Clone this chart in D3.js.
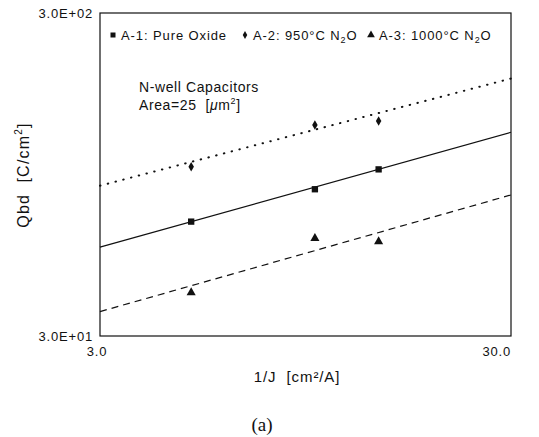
<!DOCTYPE html>
<html>
<head>
<meta charset="utf-8">
<script src="https://cdn.jsdelivr.net/npm/d3@7"></script>
<style>
  body { margin: 0; background: #fff; }
  text { font-family: "Liberation Sans", Arial, sans-serif; fill: #111; }
</style>
</head>
<body>
<div id="chart"></div>
<script>
// data
var xValues = [5, 10, 14.29];          // 1/J [cm2/A]
var qbdA1 = [67.8, 85.4, 98.4];        // pure oxide
var qbdA2 = [100.3, 135, 138.9];       // 950C N2O
var qbdA3 = [40.9, 60.2, 58.8];        // 1000C N2O

// fitted lines, value at each end of the x axis
var fitX = [3, 30];
var fitA1 = [56.5, 128.2];
var fitA2 = [87.6, 188];
var fitA3 = [35.7, 82];

var xTicks = [3, 30];
var xTickLabels = ['3.0', '30.0'];
var yTicks = [30, 300];
var yTickLabels = ['3.0E+01', '3.0E+02'];

// legend labels: [normal, subscript, normal]
var legendLabels = [
  ['A-1: Pure Oxide', '', ''],
  ['A-2: 950°C N', '2', 'O'],
  ['A-3: 1000°C N', '2', 'O']
];

var width = 539;
var height = 437;
var margin = { top: 13, right: 28, bottom: 101, left: 100 };
var w = width - margin.left - margin.right;
var h = height - margin.top - margin.bottom;

var xScale = d3.scaleLog().domain([3, 30]).range([0, w]);
var yScale = d3.scaleLog().domain([30, 300]).range([h, 0]);

var svg = d3.select('#chart').append('svg')
  .attr('width', width).attr('height', height);

svg.append('rect').attr('width', width).attr('height', height).attr('fill', '#fff');

var g = svg.append('g')
  .attr('transform', 'translate(' + margin.left + ',' + margin.top + ')');

// frame
g.append('rect')
  .attr('width', w).attr('height', h)
  .attr('fill', 'none').attr('stroke', '#111').attr('stroke-width', 1.2);

// tick labels
g.selectAll('.ylab').data(yTicks).enter().append('text')
  .attr('class', 'ylab')
  .attr('x', -7)
  .attr('y', function(d) { return yScale(d) + 5; })
  .attr('text-anchor', 'end')
  .style('font-size', '13px')
  .style('letter-spacing', '0.8px')
  .text(function(d, i) { return yTickLabels[i]; });

g.selectAll('.xlab').data(xTicks).enter().append('text')
  .attr('class', 'xlab')
  .attr('x', function(d, i) { return xScale(d) + (i === 0 ? -3 : 0); })
  .attr('y', h + 20)
  .attr('text-anchor', function(d, i) { return i === 0 ? 'middle' : 'end'; })
  .style('font-size', '13px')
  .style('letter-spacing', '0.8px')
  .text(function(d, i) { return xTickLabels[i]; });

// axis titles
svg.append('text')
  .attr('x', 297).attr('y', 382)
  .attr('text-anchor', 'middle')
  .attr('xml:space', 'preserve')
  .style('font-size', '15px')
  .style('letter-spacing', '0.9px')
  .text('1/J  [cm²/A]');

var yt = svg.append('text')
  .attr('transform', 'translate(29,175) rotate(-90)')
  .attr('text-anchor', 'middle')
  .style('font-size', '16px')
  .style('letter-spacing', '1.2px')
  .attr('xml:space', 'preserve');
yt.append('tspan').text('Qbd  [C/cm');
yt.append('tspan').text('2').style('font-size', '10px').attr('dy', -7);
yt.append('tspan').text(']').attr('dy', 7);

svg.append('text')
  .attr('x', 262).attr('y', 431)
  .attr('text-anchor', 'middle')
  .style('font-family', '"Liberation Serif", "DejaVu Serif", serif')
  .style('font-size', '19px')
  .text('(a)');

// fit lines
var line = d3.line()
  .x(function(d) { return xScale(d[0]); })
  .y(function(d) { return yScale(d[1]); });

var fits = [
  { vals: fitA1, dash: null, width: 1.2, cap: 'butt' },
  { vals: fitA2, dash: '0.5,7.5', width: 2, cap: 'round' },
  { vals: fitA3, dash: '7,5', width: 1.2, cap: 'butt' }
];

g.selectAll('.fit').data(fits).enter().append('path')
  .attr('class', 'fit')
  .attr('d', function(d) { return line(fitX.map(function(x, i) { return [x, d.vals[i]]; })); })
  .attr('fill', 'none')
  .attr('stroke', '#111')
  .attr('stroke-width', function(d) { return d.width; })
  .attr('stroke-linecap', function(d) { return d.cap; })
  .attr('stroke-dasharray', function(d) { return d.dash; });

// markers
var square = d3.symbol().type(d3.symbolSquare).size(40);
var diamond = d3.symbol().type(d3.symbolDiamond).size(26);
var triangle = d3.symbol().type(d3.symbolTriangle).size(36);

var series = [
  { vals: qbdA1, sym: square },
  { vals: qbdA2, sym: diamond },
  { vals: qbdA3, sym: triangle }
];

series.forEach(function(s) {
  g.selectAll(null).data(xValues).enter().append('path')
    .attr('d', s.sym())
    .attr('fill', '#111')
    .attr('transform', function(d, i) {
      return 'translate(' + xScale(d) + ',' + yScale(s.vals[i]) + ')';
    });
});

// legend
var legendX = [113, 245, 371];
var legendSyms = [
  d3.symbol().type(d3.symbolSquare).size(25),
  d3.symbol().type(d3.symbolDiamond).size(18),
  d3.symbol().type(d3.symbolTriangle).size(26)
];

legendLabels.forEach(function(lab, i) {
  svg.append('path')
    .attr('d', legendSyms[i]())
    .attr('fill', '#111')
    .attr('transform', 'translate(' + legendX[i] + ',35)');
  var t = svg.append('text')
    .attr('x', legendX[i] + 8).attr('y', 40)
    .style('font-size', '13px')
    .style('letter-spacing', '0.9px');
  t.append('tspan').text(lab[0]);
  if (lab[1]) {
    t.append('tspan').text(lab[1]).style('font-size', '9px').attr('dy', 3);
    t.append('tspan').text(lab[2]).attr('dy', -3);
  }
});

// annotation
svg.append('text')
  .attr('x', 139).attr('y', 92)
  .style('font-size', '14px')
  .style('letter-spacing', '0.6px')
  .text('N-well Capacitors');

var area = svg.append('text')
  .attr('x', 139).attr('y', 110)
  .style('font-size', '14px')
  .style('letter-spacing', '0.6px')
  .attr('xml:space', 'preserve');
area.append('tspan').text('Area=25  [');
area.append('tspan').text('μ').style('font-style', 'italic');
area.append('tspan').text('m');
area.append('tspan').text('2').style('font-size', '9px').attr('dy', -6);
area.append('tspan').text(']').attr('dy', 6);
</script>
</body>
</html>
